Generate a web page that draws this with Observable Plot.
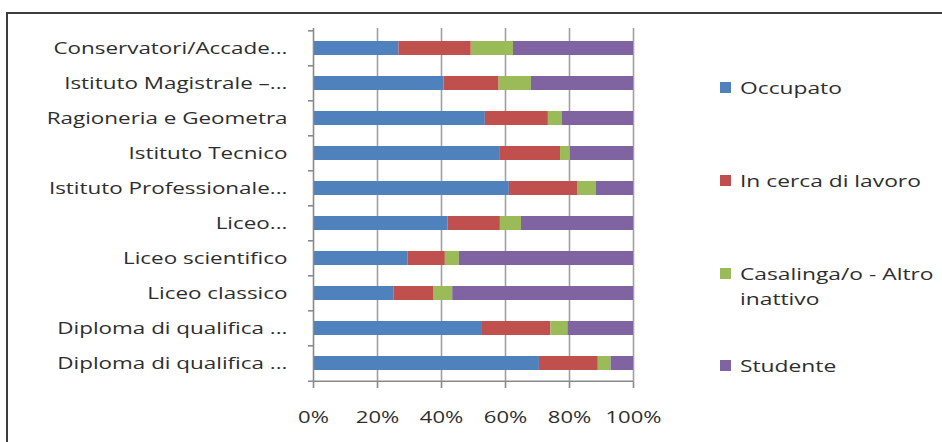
<!DOCTYPE html>
<html>
<head>
<meta charset="utf-8">
<script src="https://cdn.jsdelivr.net/npm/d3@7"></script>
<script src="https://cdn.jsdelivr.net/npm/@observablehq/plot@0.6"></script>
<style>
  html, body { margin: 0; padding: 0; background: #fff; }
  #wrap { position: relative; width: 942px; height: 442px; overflow: hidden; font-family: "Open Sans", sans-serif; }
  #frame { position: absolute; left: 6px; top: 12px; width: 960px; height: 460px;
           border-left: 2px solid #3c3c3c; border-top: 2px solid #3c3c3c; }
  #chart { position: absolute; left: 0; top: 0; }
  .leg { position: absolute; left: 720px; font-size: 17px; color: #2e2e2e; line-height: 25px; }
  .leg .sw { position: absolute; left: 0; width: 11px; height: 11px; top: 7px; }
  .leg .tx { position: absolute; left: 20px; top: 0; white-space: nowrap;
             transform: scaleX(1.34); transform-origin: 0 0; }
</style>
</head>
<body>
<div id="wrap">
  <div id="frame"></div>
  <div id="chart"></div>
</div>
<script>
// Categories, top to bottom
const labels = [
  "Conservatori/Accade...",
  "Istituto Magistrale \u2013...",
  "Ragioneria e Geometra",
  "Istituto Tecnico",
  "Istituto Professionale...",
  "Liceo...",
  "Liceo scientifico",
  "Liceo classico",
  "Diploma di qualifica ...",
  "Diploma di qualifica ..."
];

// Series names and colours
const seriesNames = ["Occupato", "In cerca di lavoro", "Casalinga/o - Altro inattivo", "Studente"];
const seriesColors = ["#4f81bd", "#c0504d", "#9bbb59", "#8064a2"];

// Shares (%) per category, same order as labels
const occupato     = [26.7, 40.8, 53.7, 58.4, 61.2, 42.0, 29.5, 25.1, 52.8, 70.6];
const inCerca      = [22.6, 17.2, 19.7, 18.8, 21.5, 16.4, 11.7, 12.4, 21.4, 18.4];
const casalinga    = [13.2, 10.1,  4.4,  3.1,  5.6,  6.6,  4.4,  6.0,  5.3,  4.0];
const studente     = [37.5, 31.9, 22.2, 19.7, 11.7, 35.0, 54.4, 56.5, 20.5,  7.0];

// X-axis ticks
const xTicks = [0, 20, 40, 60, 80, 100];

const seriesValues = [occupato, inCerca, casalinga, studente];
const idx = labels.map((_, i) => i);
const rows = [];
seriesNames.forEach((s, k) => idx.forEach(i => rows.push({i, series: s, value: seriesValues[k][i]})));

const W = 680, H = 442, mTop = 28, mBottom = 60, mLeft = 313, mRight = 47;
const step = (H - mTop - mBottom) / labels.length;
const axisGray = "#8a8a8a";
const gridGray = "#a0a0a0";

const chart = Plot.plot({
  width: W,
  height: H,
  marginTop: mTop,
  marginBottom: mBottom,
  marginLeft: mLeft,
  marginRight: mRight,
  style: { fontFamily: "Open Sans, sans-serif", fontSize: "17px", color: "#2e2e2e", background: "transparent" },
  x: { domain: [0, 100] },
  y: { domain: idx, paddingInner: 0.6, paddingOuter: 0.3 },
  color: { domain: seriesNames, range: seriesColors },
  marks: [
    Plot.ruleX(xTicks.slice(1), { stroke: gridGray, strokeWidth: 1.6 }),
    Plot.barX(rows, { y: "i", x: "value", fill: "series", order: seriesNames }),
    Plot.ruleX([0], { stroke: axisGray, strokeWidth: 1.6 }),
    // category boundary ticks on the left axis
    Plot.ruleY(idx, { y: d => d, x1: 0, x2: 0, insetLeft: -5, dy: -step / 2, stroke: axisGray, strokeWidth: 1.6 }),
    // bottom axis line
    Plot.ruleY([idx[idx.length - 1]], { y: d => d, x1: 0, x2: 100, insetLeft: -5, dy: step / 2, stroke: axisGray, strokeWidth: 1.6 }),
    Plot.axisY({ tickSize: 0, tickPadding: 26, tickFormat: i => labels[i], label: null, fontSize: 17 }),
    Plot.axisX({ ticks: xTicks, tickFormat: d => d + "%", tickSize: 6, tickPadding: 22, stroke: axisGray, strokeWidth: 1.6, label: null, fontSize: 17 })
  ]
});

// Stretch the axis labels horizontally around their anchor points
chart.querySelectorAll("g[aria-label='y-axis tick label'] text").forEach(t => {
  t.setAttribute("transform", (t.getAttribute("transform") || "") + " scale(1.32,1)");
});
chart.querySelectorAll("g[aria-label='x-axis tick label'] text").forEach(t => {
  t.setAttribute("transform", (t.getAttribute("transform") || "") + " scale(1.3,1)");
});

document.getElementById("chart").appendChild(chart);

// Legend to the right of the plot
const legendTops = [75, 168, 261, 353];
const wrap = document.getElementById("wrap");
seriesNames.forEach((s, k) => {
  const d = document.createElement("div");
  d.className = "leg";
  d.style.top = legendTops[k] + "px";
  const sw = document.createElement("div");
  sw.className = "sw";
  sw.style.background = seriesColors[k];
  const tx = document.createElement("div");
  tx.className = "tx";
  tx.innerHTML = s === "Casalinga/o - Altro inattivo" ? "Casalinga/o - Altro<br>inattivo" : s;
  d.appendChild(sw);
  d.appendChild(tx);
  wrap.appendChild(d);
});
</script>
</body>
</html>
